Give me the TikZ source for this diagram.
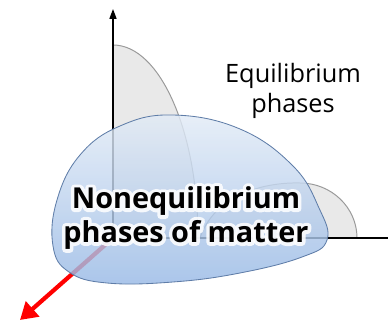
\documentclass[tikz,border=0pt]{standalone}
\usepackage{fontspec}
\setmainfont{Open Sans}
\usetikzlibrary{arrows.meta, positioning, calc}

\definecolor{domegray}{HTML}{E9E9E9}
\definecolor{domeline}{HTML}{9A9A9A}
\definecolor{blobtop}{HTML}{E2EBF6}
\definecolor{blobbot}{HTML}{98B9E5}
\definecolor{blobline}{HTML}{5F7DA8}

% white outline round the bold label
\newcommand\halotext[1]{\special{pdf:code 1 G 5 w 1 j 1 J 2 Tr}#1\special{pdf:code 0 Tr}}

\tikzset{
    dome/.style={fill=domegray, draw=domeline, line width=0.7pt},
    axis/.style={draw=black, line width=1pt},
    blob/.style={draw=blobline, line width=0.6pt, top color=blobtop, bottom color=blobbot, fill opacity=0.82},
    eqtext/.style={font=\fontsize{18}{21}\selectfont, align=center, text=black},
    neqtext/.style={font=\bfseries\fontsize{20.5}{24}\selectfont, align=center, inner sep=0pt}
}

\begin{document}
\begin{tikzpicture}[x=0.025cm, y=-0.025cm]
    \useasboundingbox (0,0) rectangle (388,320);

    % named points of the axes
    \coordinate (o) at (113,238);
    \coordinate (ztop) at (113,9);
    \coordinate (xend) at (390,238);
    \coordinate (kend) at (20,320);

    % equilibrium domes
    \draw[dome] (o) -- (113,45) arc[start angle=-90, end angle=0, x radius=85, y radius=193] -- cycle;
    \draw[dome] (200,238) .. controls (214,196) and (262,182) .. (300,183)
        arc[start angle=-90, end angle=0, x radius=57, y radius=55] -- cycle;

    % axes
    \draw[axis, -{Triangle[length=7pt, width=5pt]}] (o) -- (ztop);
    \draw[axis] (o) -- (xend);
    \draw[red, line width=3pt, -{Triangle[length=12pt, width=14pt]}] (o) -- (kend);

    % nonequilibrium blob
    \path[blob] plot[smooth cycle, tension=0.7] coordinates {
        (173,115) (240,129) (293,166) (319,208) (327,240) (302,257)
        (240,273) (173,282) (107,283) (69,272) (53,246) (57,200) (80,155) (120,126)};

    % labels
    \node[eqtext] (eq) at (293,91) {Equilibrium\\phases};
    \node[neqtext, text=white, opacity=0.85] (neqhalo) at (186,218)
        {\halotext{Nonequilibrium}\\\halotext{phases of matter}};
    \node[neqtext] (neq) at (186,218) {Nonequilibrium\\phases of matter};
\end{tikzpicture}
\end{document}
